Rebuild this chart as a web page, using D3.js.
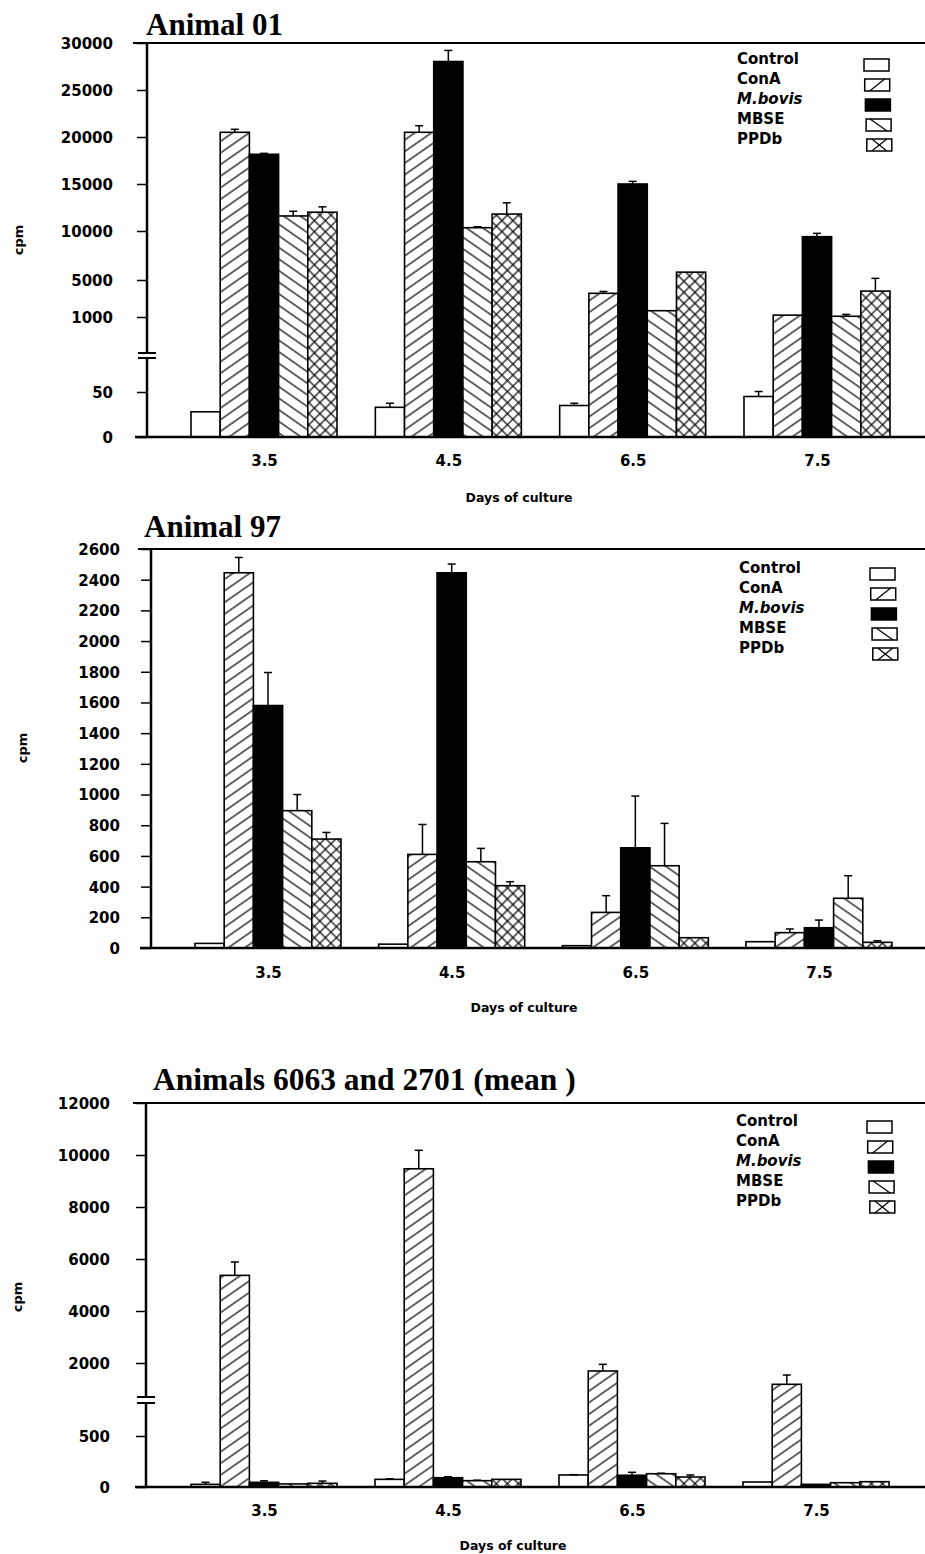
<!DOCTYPE html>
<html>
<head>
<meta charset="utf-8">
<script src="https://cdn.jsdelivr.net/npm/d3@7"></script>
<style>
  html, body { margin: 0; padding: 0; background: #fff; }
  svg { display: block; }
  .tick text, .lbl { font-family: "DejaVu Sans", sans-serif; font-weight: bold; fill: #000; }
  .title { font-family: "Liberation Serif", "Times New Roman", serif; font-weight: bold; fill: #000; }
</style>
</head>
<body>
<svg id="chart" width="925" height="1554"></svg>
<script>
// ---------------- DATA ----------------
const days = ["3.5", "4.5", "6.5", "7.5"];
const series = ["Control", "ConA", "M.bovis", "MBSE", "PPDb"];

// Animal 01 (mean cpm per day, one array per series)
const a01Control = [28, 33, 35, 45];
const a01ConA    = [20500, 20500, 3560, 1200];
const a01Mbovis  = [18160, 28030, 15000, 9420];
const a01MBSE    = [11600, 10350, 1680, 1080];
const a01PPDb    = [12000, 11800, 5800, 3800];
// Animal 01 error bars
const a01ControlErr = [0, 4.5, 2.5, 11];
const a01ConAErr    = [320, 700, 200, 0];
const a01MbovisErr  = [100, 1180, 280, 340];
const a01MBSEErr    = [500, 100, 0, 200];
const a01PPDbErr    = [570, 1200, 0, 1370];
const a01Ticks = [0, 50, 1000, 5000, 10000, 15000, 20000, 25000, 30000];

// Animal 97
const a97Control = [30, 25, 15, 41];
const a97ConA    = [2445, 610, 232, 100];
const a97Mbovis  = [1580, 2445, 653, 132];
const a97MBSE    = [895, 562, 536, 324];
const a97PPDb    = [710, 406, 67, 37];
const a97ControlErr = [0, 0, 0, 0];
const a97ConAErr    = [100, 195, 109, 24];
const a97MbovisErr  = [215, 57, 337, 50];
const a97MBSEErr    = [105, 87, 276, 147];
const a97PPDbErr    = [43, 26, 0, 10];
const a97Ticks = [0, 200, 400, 600, 800, 1000, 1200, 1400, 1600, 1800, 2000, 2200, 2400, 2600];

// Animals 6063 and 2701 (mean)
const amControl = [26, 75, 118, 49];
const amConA    = [5370, 9470, 1836, 1562];
const amMbovis  = [46, 91, 115, 26];
const amMBSE    = [30, 62, 130, 42];
const amPPDb    = [36, 75, 98, 52];
const amControlErr = [20, 5, 3, 0];
const amConAErr    = [515, 710, 137, 191];
const amMbovisErr  = [15, 10, 29, 0];
const amMBSEErr    = [0, 5, 5, 0];
const amPPDbErr    = [22, 0, 20, 0];
const amTicks = [0, 500, 2000, 4000, 6000, 8000, 10000, 12000];

// ---------------- DRAWING ----------------
const svg = d3.select("#chart");
svg.append("rect").attr("width", 925).attr("height", 1554).attr("fill", "#fff");

const defs = svg.append("defs");
function linePattern(id, angle, spacing) {
  const p = defs.append("pattern").attr("id", id)
    .attr("patternUnits", "userSpaceOnUse")
    .attr("width", 20).attr("height", spacing)
    .attr("patternTransform", `rotate(${angle})`);
  p.append("rect").attr("width", 20).attr("height", spacing).attr("fill", "#fff");
  p.append("line").attr("x1", 0).attr("x2", 20).attr("y1", spacing / 2).attr("y2", spacing / 2)
    .attr("stroke", "#000").attr("stroke-width", 1.2);
}
linePattern("pConA", -35, 9.5);
linePattern("pMBSE", 35, 9.5);
{
  const s = 7.8;
  const p = defs.append("pattern").attr("id", "pPPDb")
    .attr("patternUnits", "userSpaceOnUse")
    .attr("width", s).attr("height", s)
    .attr("patternTransform", "rotate(45)");
  p.append("rect").attr("width", s).attr("height", s).attr("fill", "#fff");
  p.append("line").attr("x1", 0).attr("x2", s).attr("y1", s / 2).attr("y2", s / 2).attr("stroke", "#000").attr("stroke-width", 1.2);
  p.append("line").attr("y1", 0).attr("y2", s).attr("x1", s / 2).attr("x2", s / 2).attr("stroke", "#000").attr("stroke-width", 1.2);
}
const fills = { "Control": "#fff", "ConA": "url(#pConA)", "M.bovis": "#000", "MBSE": "url(#pMBSE)", "PPDb": "url(#pPPDb)" };

function drawPanel(cfg) {
  const g = svg.append("g");
  const y = d3.scaleLinear().domain(cfg.yDomain).range(cfg.yRange);
  const x = d3.scalePoint().domain(days).range(cfg.xRange);
  const xs = d3.scaleBand().domain(series).range([-73, 73]).padding(0);

  // title
  g.append("text").attr("class", "title").attr("x", cfg.titleX).attr("y", cfg.titleY)
    .attr("font-size", cfg.titleSize).text(cfg.title);

  // bars
  const rows = [];
  series.forEach((s, si) => {
    days.forEach((d, di) => {
      rows.push({ s, d, v: cfg.values[si][di], e: cfg.errors[si][di] });
    });
  });
  g.selectAll("rect.bar").data(rows).join("rect").attr("class", "bar")
    .attr("x", r => x(r.d) + xs(r.s))
    .attr("width", xs.bandwidth())
    .attr("y", r => y(r.v))
    .attr("height", r => y(0) - y(r.v))
    .attr("fill", r => fills[r.s])
    .attr("stroke", "#000").attr("stroke-width", 1.6);

  // error bars
  const eg = g.selectAll("g.err").data(rows.filter(r => r.e > 0)).join("g").attr("class", "err");
  eg.append("line")
    .attr("x1", r => x(r.d) + xs(r.s) + xs.bandwidth() / 2)
    .attr("x2", r => x(r.d) + xs(r.s) + xs.bandwidth() / 2)
    .attr("y1", r => y(r.v)).attr("y2", r => y(r.v + r.e))
    .attr("stroke", "#000").attr("stroke-width", 1.5);
  eg.append("line")
    .attr("x1", r => x(r.d) + xs(r.s) + xs.bandwidth() / 2 - 4)
    .attr("x2", r => x(r.d) + xs(r.s) + xs.bandwidth() / 2 + 4)
    .attr("y1", r => y(r.v + r.e)).attr("y2", r => y(r.v + r.e))
    .attr("stroke", "#000").attr("stroke-width", 1.5);

  // y axis
  const ay = g.append("g").attr("transform", `translate(${cfg.axisX},0)`)
    .call(d3.axisLeft(y).tickValues(cfg.ticks).tickSize(10).tickPadding(cfg.tickPad).tickFormat(d3.format("d")));
  ay.select(".domain").remove();
  ay.selectAll(".tick line").attr("stroke", "#000").attr("stroke-width", 1.5);
  ay.selectAll(".tick text").attr("font-size", 15).attr("dy", "0.36em");
  g.append("line").attr("x1", cfg.axisX).attr("x2", cfg.axisX)
    .attr("y1", y(cfg.yDomain[cfg.yDomain.length - 1])).attr("y2", y(0) + 1)
    .attr("stroke", "#000").attr("stroke-width", 2.5);

  // top frame line and bottom axis line
  g.append("line").attr("x1", cfg.frameX).attr("x2", 925)
    .attr("y1", y(cfg.yDomain[cfg.yDomain.length - 1])).attr("y2", y(cfg.yDomain[cfg.yDomain.length - 1]))
    .attr("stroke", "#000").attr("stroke-width", 2);
  g.append("line").attr("x1", cfg.frameX + 2).attr("x2", 925)
    .attr("y1", y(0)).attr("y2", y(0))
    .attr("stroke", "#000").attr("stroke-width", 2.5);

  // axis break
  if (cfg.breakY) {
    const [b1, b2] = cfg.breakY;
    g.append("rect").attr("x", cfg.axisX - 3).attr("y", b1).attr("width", 6).attr("height", b2 - b1).attr("fill", "#fff");
    [b1, b2].forEach(b => g.append("line").attr("x1", cfg.axisX - 9).attr("x2", cfg.axisX + 9)
      .attr("y1", b).attr("y2", b).attr("stroke", "#000").attr("stroke-width", 2));
  }

  // x axis labels
  const ax = g.append("g").attr("transform", `translate(0,${cfg.xLabelY})`)
    .call(d3.axisBottom(x).tickSize(0).tickPadding(0));
  ax.select(".domain").remove();
  ax.selectAll(".tick text").attr("font-size", 15).attr("dy", 0).attr("y", 0);

  // axis titles
  g.append("text").attr("class", "lbl").attr("font-size", 12.5)
    .attr("x", cfg.xTitle[0]).attr("y", cfg.xTitle[1]).attr("text-anchor", "middle").text("Days of culture");
  g.append("text").attr("class", "lbl").attr("font-size", 13)
    .attr("transform", `translate(${cfg.yTitle[0]},${cfg.yTitle[1]}) rotate(-90)`)
    .attr("text-anchor", "middle").attr("dy", "0.35em").text("cpm");

  // legend
  const lg = g.append("g");
  series.forEach((s, i) => {
    const cy = cfg.legendY + i * 20;
    const t = lg.append("text").attr("class", "lbl").attr("font-size", 15)
      .attr("x", cfg.legendX).attr("y", cy).attr("dy", "0.36em").text(s);
    if (s === "M.bovis") t.attr("font-style", "italic");
    const bx = cfg.boxX + i * 0.7, by = cy, bw = 25, bh = 12;
    lg.append("rect").attr("x", bx).attr("y", by).attr("width", bw).attr("height", bh)
      .attr("fill", s === "M.bovis" ? "#000" : "#fff").attr("stroke", "#000").attr("stroke-width", 1.5);
    const ln = (x1, y1, x2, y2) => lg.append("line").attr("x1", x1).attr("y1", y1).attr("x2", x2).attr("y2", y2)
      .attr("stroke", "#000").attr("stroke-width", 1.2);
    if (s === "ConA") ln(bx + 5, by + bh, bx + bw - 5, by);
    if (s === "MBSE") ln(bx + 4, by, bx + bw - 4, by + bh);
    if (s === "PPDb") { ln(bx + 5, by, bx + bw - 5, by + bh); ln(bx + 5, by + bh, bx + bw - 5, by); }
  });
}

drawPanel({
  title: "Animal 01", titleX: 146, titleY: 35, titleSize: 31,
  values: [a01Control, a01ConA, a01Mbovis, a01MBSE, a01PPDb],
  errors: [a01ControlErr, a01ConAErr, a01MbovisErr, a01MBSEErr, a01PPDbErr],
  yDomain: [0, 50, 1000, 5000, 10000, 15000, 20000, 25000, 30000],
  yRange: [437, 392, 317, 280, 231, 184, 137, 90, 43],
  ticks: a01Ticks, tickPad: 24,
  xRange: [264, 817], axisX: 147, frameX: 133,
  breakY: [353, 358],
  xLabelY: 466, xTitle: [519, 502], yTitle: [18, 240],
  legendX: 737, legendY: 59, boxX: 864
});

drawPanel({
  title: "Animal 97", titleX: 144, titleY: 537, titleSize: 31,
  values: [a97Control, a97ConA, a97Mbovis, a97MBSE, a97PPDb],
  errors: [a97ControlErr, a97ConAErr, a97MbovisErr, a97MBSEErr, a97PPDbErr],
  yDomain: [0, 2600], yRange: [948, 549],
  ticks: a97Ticks, tickPad: 21,
  xRange: [268, 819], axisX: 151, frameX: 138,
  breakY: null,
  xLabelY: 978, xTitle: [524, 1012], yTitle: [22, 748],
  legendX: 739, legendY: 568, boxX: 870
});

drawPanel({
  title: "Animals 6063 and 2701 (mean )", titleX: 153, titleY: 1090, titleSize: 31.5,
  values: [amControl, amConA, amMbovis, amMBSE, amPPDb],
  errors: [amControlErr, amConAErr, amMbovisErr, amMBSEErr, amPPDbErr],
  yDomain: [0, 500, 2000, 12000], yRange: [1487, 1436, 1363, 1103],
  ticks: amTicks, tickPad: 26,
  xRange: [264, 816], axisX: 146, frameX: 133,
  breakY: [1397, 1403],
  xLabelY: 1516, xTitle: [513, 1550], yTitle: [17, 1297],
  legendX: 736, legendY: 1121, boxX: 867
});
</script>
</body>
</html>
